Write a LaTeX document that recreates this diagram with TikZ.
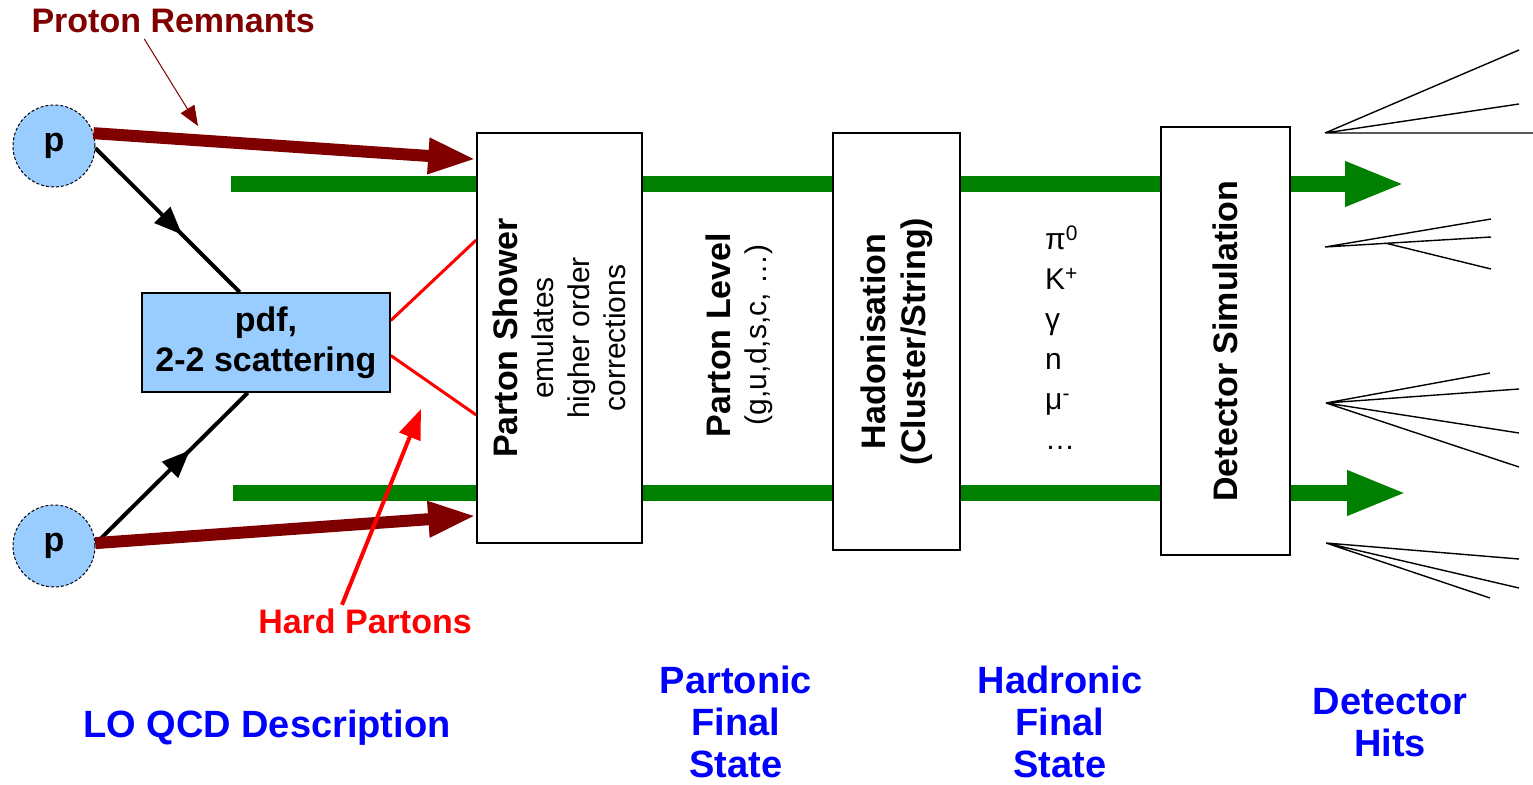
\documentclass[tikz,border=0pt]{standalone}
\usepackage{fontspec}
\setmainfont{Liberation Sans}
\usetikzlibrary{arrows.meta,calc,decorations.markings,backgrounds}

\definecolor{protonblue}{HTML}{99CCFF}
\definecolor{remnant}{HTML}{800000}
\definecolor{flowgreen}{HTML}{008000}
\definecolor{labelblue}{HTML}{0000FF}

\newcommand{\txtbold}{\fontsize{34}{40}\selectfont\bfseries}
\newcommand{\txtreg}{\fontsize{30}{36}\selectfont}
\newcommand{\txtlist}{\fontsize{30}{40}\selectfont}
\newcommand{\txtlabel}{\fontsize{38}{42}\selectfont\bfseries}

\begin{document}
\begin{tikzpicture}[x=1pt,y=-1pt,
  proton/.style={circle, draw=black, densely dashed, line width=1pt, fill=protonblue,
    minimum size=82pt, inner sep=0pt, font=\txtbold},
  stagebox/.style={draw=black, line width=1.6pt, fill=white, inner sep=0pt},
  vtext/.style={rotate=90, align=center, inner sep=0pt},
  bluelabel/.style={text=labelblue, font=\txtlabel, align=center, inner sep=0pt},
  remnantarrow/.style={draw=remnant, line width=12pt, -{Triangle[length=48pt,width=33pt]}},
  flowarrow/.style={draw=flowgreen, line width=16pt, -{Triangle[length=60pt,width=41pt]}},
  quarkline/.style={draw=black, line width=4pt, postaction={decorate},
    decoration={markings, mark=at position #1 with {\arrow{Triangle[length=28pt,width=22pt]}}}},
  hardline/.style={draw=red, line width=3pt},
  hardarrow/.style={draw=red, line width=4pt, -{Triangle[length=30pt,width=22pt]}},
  pointer/.style={draw=remnant, line width=1pt, -{Triangle[length=20pt,width=16pt]}},
  jet/.style={draw=black, line width=1.4pt}
]
\useasboundingbox (0,0) rectangle (1533,784);

% incoming protons and the hard process
\node[proton] (p1) at (54,146) {p};
\node[proton] (p2) at (54,546) {p};
\node[stagebox, fill=protonblue, minimum width=248pt, minimum height=99pt,
      align=center, font=\txtbold] (pdf) at (266,342.5) {pdf,\\2-2 scattering};

% simulation stages
\node[stagebox, minimum width=165pt, minimum height=410pt] (ps) at (559.5,338) {};
\node[vtext, font=\txtreg] (pstext) at (ps.center)
  {\txtbold Parton Shower\\\txtreg emulates\\higher order\\corrections};

\node[vtext, font=\txtreg] (plevel) at (739,335)
  {\txtbold Parton Level\\\txtreg (g,u,d,s,c, …)};

\node[stagebox, minimum width=127pt, minimum height=417pt] (had) at (896.5,341.5) {};
\node[vtext, font=\txtbold] (hadtext) at (had.center) {Hadonisation\\(Cluster/String)};

\node[align=left, font=\txtlist, anchor=north west, inner sep=0pt] (plist) at (1045,226)
  {π\textsuperscript{0}\\K\textsuperscript{+}\\γ\\n\\μ\textsuperscript{-}\\…};

\node[stagebox, minimum width=129pt, minimum height=428pt] (det) at (1225.5,341) {};
\node[vtext, font=\txtbold] (dettext) at (det.center) {Detector Simulation};

% annotations
\node[font=\txtbold, text=remnant, anchor=base west] (prlabel) at (28,33) {Proton Remnants};
\node[font=\txtbold, text=red, anchor=base] (hplabel) at (365,633) {Hard Partons};
\node[bluelabel, anchor=base west] (lo) at (83,737) {LO QCD Description};
\node[bluelabel] (pfs) at (736,722) {Partonic\\Final\\State};
\node[bluelabel] (hfs) at (1060,722) {Hadronic\\Final\\State};
\node[bluelabel] (dhits) at (1390,723) {Detector\\Hits};

\coordinate (gtop) at (231,184);
\coordinate (gtopend) at (1405,184);
\coordinate (gbot) at (233,493);
\coordinate (gbotend) at (1407,493);
\coordinate (hptip) at (421,409);
\coordinate (prtip) at (198,126);

\begin{pgfonlayer}{background}
  % event flow through the chain
  \draw[flowarrow] (gtop) -- (gtopend);
  \draw[flowarrow] (gbot) -- (gbotend);
  % incoming partons
  \draw[quarkline=0.6] (p1.-3) -- ($(pdf.north west)!0.395!(pdf.north east)$);
  \draw[quarkline=0.62] (p2.3) -- ($(pdf.south west)!0.427!(pdf.south east)$);
  % outgoing hard partons
  \draw[hardline] ($(pdf.east)+(0,-22)$) -- ($(ps.west)+(0,-98)$);
  \draw[hardline] ($(pdf.east)+(0,13)$) -- ($(ps.west)+(0,77)$);
\end{pgfonlayer}

% proton remnants
\draw[remnantarrow] (p1.18) -- ($(ps.north west)+(0,27)$);
\draw[remnantarrow] (p2.4) -- ($(ps.south west)+(0,-28)$);

% label pointers
\draw[pointer] ($(prlabel.south)+(-29,2)$) -- (prtip);
\draw[hardarrow] ($(hplabel.north)+(-23,0)$) -- (hptip);

% detector hits
\coordinate (j1) at (1325,133);
\coordinate (j2) at (1325,247);
\coordinate (j2b) at (1385,243);
\coordinate (j3) at (1326,403);
\coordinate (j4) at (1326,543);
\draw[jet] (j1) -- (1519,50) (j1) -- (1519,104) (j1) -- (1533,133);
\draw[jet] (j2) -- (1491,219) (j2) -- (1491,237) (j2b) -- (1491,269);
\draw[jet] (j3) -- (1490,373) (j3) -- (1519,389) (j3) -- (1519,433) (j3) -- (1519,467);
\draw[jet] (j4) -- (1519,559) (j4) -- (1519,588) (j4) -- (1490,598);
\end{tikzpicture}
\end{document}
